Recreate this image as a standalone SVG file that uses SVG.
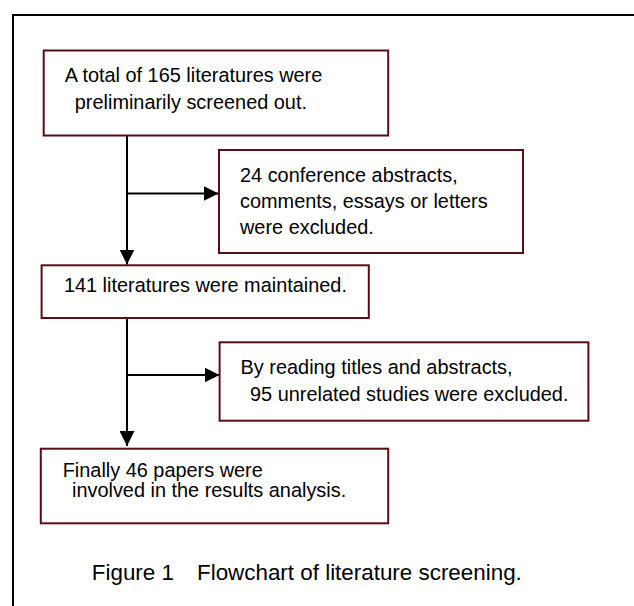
<svg xmlns="http://www.w3.org/2000/svg" width="634" height="606" viewBox="0 0 634 606">
  <style>
    .box { fill: #ffffff; stroke: #5b0d15; stroke-width: 2; }
    .t { font-family: "Liberation Sans", Arial, sans-serif; font-size: 19.9px; fill: #000000; }
    .cap { font-family: "Liberation Sans", Arial, sans-serif; font-size: 22.4px; fill: #000000; }
    .conn { fill: none; stroke: #000000; stroke-width: 2; }
  </style>
  <defs>
    <marker id="arrow" markerUnits="userSpaceOnUse" markerWidth="15" markerHeight="15" viewBox="0 0 15 15" refX="15" refY="7.5" orient="auto">
      <path d="M0,0 L15,7.5 L0,15 Z" fill="#000000"/>
    </marker>
  </defs>
  <rect x="0" y="0" width="634" height="606" fill="#ffffff"/>
  <rect id="frame" x="13" y="15" width="640" height="620" fill="none" stroke="#000000" stroke-width="2"/>

  <g id="connectors">
    <line class="conn" x1="127" y1="136" x2="127" y2="264.5" marker-end="url(#arrow)"/>
    <line class="conn" x1="127" y1="193.5" x2="218.5" y2="193.5" marker-end="url(#arrow)"/>
    <line class="conn" x1="127" y1="318" x2="127" y2="446" marker-end="url(#arrow)"/>
    <line class="conn" x1="127" y1="375" x2="219.5" y2="375" marker-end="url(#arrow)"/>
  </g>

  <g id="node1">
    <rect class="box" x="43.7" y="50.5" width="344.5" height="85"/>
    <text class="t" x="64.7" y="81.7">A total of 165 literatures were</text>
    <text class="t" x="74.8" y="109.3">preliminarily screened out.</text>
  </g>

  <g id="node2">
    <rect class="box" x="219" y="150" width="304" height="103"/>
    <text class="t" x="240" y="181.7">24 conference abstracts,</text>
    <text class="t" x="240" y="208.3">comments, essays or letters</text>
    <text class="t" x="240" y="234.3">were excluded.</text>
  </g>

  <g id="node3">
    <rect class="box" x="41.6" y="265.3" width="327.2" height="52.7"/>
    <text class="t" x="63.9" y="291.7">141 literatures were maintained.</text>
  </g>

  <g id="node4">
    <rect class="box" x="219.6" y="342.3" width="368.8" height="78.4"/>
    <text class="t" x="240.6" y="374">By reading titles and abstracts,</text>
    <text class="t" x="250" y="400.7">95 unrelated studies were excluded.</text>
  </g>

  <g id="node5">
    <rect class="box" x="40.8" y="448.7" width="347.4" height="74.6"/>
    <text class="t" x="62.7" y="476.7">Finally 46 papers were</text>
    <text class="t" x="72" y="497.3">involved in the results analysis.</text>
  </g>

  <g id="caption">
    <text class="cap" x="91.8" y="580">Figure 1</text>
    <text class="cap" x="197" y="580">Flowchart of literature screening.</text>
  </g>
</svg>
